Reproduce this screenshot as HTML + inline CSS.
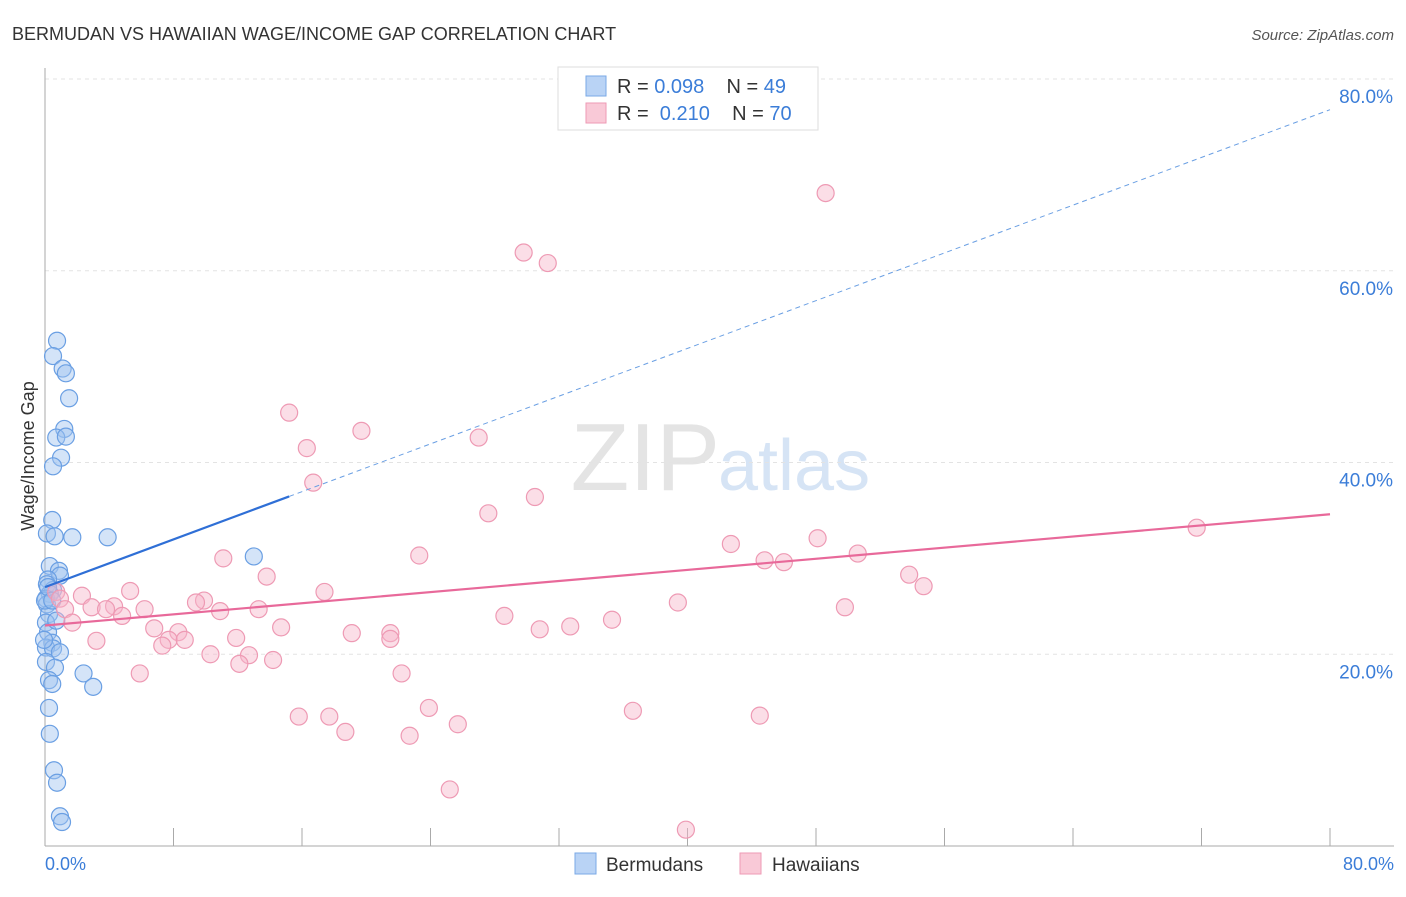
<!DOCTYPE html>
<html><head><meta charset="utf-8"><style>
body{margin:0;background:#fff;font-family:"Liberation Sans",sans-serif}
svg text{font-family:"Liberation Sans",sans-serif}
</style></head><body>
<svg id="c" width="1406" height="892">
<text x="12" y="40" font-size="18" fill="#333">BERMUDAN VS HAWAIIAN WAGE/INCOME GAP CORRELATION CHART</text>
<text x="1394" y="40" font-size="15" fill="#555" font-style="italic" text-anchor="end">Source: ZipAtlas.com</text>
<text x="720" y="490" font-size="96" fill="#e4e4e4" text-anchor="end" font-family="Liberation Serif">ZIP</text>
<text x="718" y="490" font-size="72" fill="#d6e4f5">atlas</text>
<g id="grid"></g><g id="pts"></g><g id="lines"></g>
<text transform="translate(34,456) rotate(-90)" font-size="18" fill="#333" text-anchor="middle">Wage/Income Gap</text>
<text x="45" y="870" font-size="18" fill="#3b7dd8">0.0%</text>
<text x="1394" y="870" font-size="18" fill="#3b7dd8" text-anchor="end">80.0%</text>
<g>
<rect x="558" y="67" width="260" height="63" fill="#fff" stroke="#ddd"/>
<rect x="586" y="76" width="20" height="20" fill="#b9d3f5" stroke="#7aa8e6"/>
<rect x="586" y="103" width="20" height="20" fill="#f9c9d7" stroke="#ee9ab4"/>
<text x="617" y="93" font-size="20" fill="#333">R = <tspan fill="#3b7dd8">0.098</tspan>&#160;&#160;&#160; N = <tspan fill="#3b7dd8">49</tspan></text>
<text x="617" y="120" font-size="20" fill="#333">R = &#160;<tspan fill="#3b7dd8">0.210</tspan>&#160;&#160;&#160; N = <tspan fill="#3b7dd8">70</tspan></text>
</g>
<g>
<rect x="575" y="853" width="21" height="21" fill="#b9d3f5" stroke="#7aa8e6"/>
<text x="606" y="871" font-size="19" fill="#333">Bermudans</text>
<rect x="740" y="853" width="21" height="21" fill="#f9c9d7" stroke="#ee9ab4"/>
<text x="772" y="871" font-size="19" fill="#333">Hawaiians</text>
</g>
</svg>
<script>
const yTicks=[20,40,60,80];
const xTickCount=10;
const bermX=[0.75,0.5,1.1,1.3,1.5,1.2,0.7,1.3,1.0,0.5,0.45,0.12,0.6,1.7,3.9,13.0,0.3,0.87,0.93,0.19,0.12,0.5,0.3,0.06,0.12,0.25,0.06,0.19,0.45,0.06,0.5,0.93,0.06,0.62,2.4,0.25,0.45,3.0,0.25,0.3,0.56,0.75,0.93,1.06,0.0,0.19,0.45,0.7,-0.06];
const bermY=[52.7,51.1,49.8,49.3,46.7,43.5,42.6,42.7,40.5,39.6,34.0,32.6,32.3,32.2,32.2,30.2,29.2,28.7,28.2,27.8,27.3,26.7,26.3,25.8,25.2,24.2,23.3,22.3,21.2,20.7,20.6,20.2,19.2,18.6,18.0,17.3,16.9,16.6,14.4,11.7,7.9,6.6,3.1,2.5,25.6,27.0,25.6,23.5,21.5];
const hawX=[48.6,29.8,31.3,15.2,16.3,19.7,27.0,16.7,30.5,27.6,71.7,42.7,48.1,50.6,11.1,23.3,44.8,46.0,13.8,53.8,54.7,5.3,17.4,2.3,0.7,0.93,9.9,9.4,39.4,1.25,2.9,4.3,3.8,6.2,13.3,10.9,49.8,4.8,28.6,35.3,1.7,14.7,32.7,6.8,8.3,30.8,19.1,21.5,21.5,11.9,7.7,8.7,3.2,7.3,10.3,12.7,14.2,12.1,5.9,22.2,23.9,36.6,44.5,15.8,17.7,25.7,18.7,22.7,25.2,39.9];
const hawY=[68.1,61.9,60.8,45.2,41.5,43.3,42.6,37.9,36.4,34.7,33.2,31.5,32.1,30.5,30.0,30.3,29.8,29.6,28.1,28.3,27.1,26.6,26.5,26.1,26.5,25.8,25.6,25.4,25.4,24.7,24.9,25.0,24.7,24.7,24.7,24.5,24.9,24.0,24.0,23.6,23.3,22.8,22.9,22.7,22.3,22.6,22.2,22.2,21.6,21.7,21.5,21.5,21.4,20.9,20.0,19.9,19.4,19.0,18.0,18.0,14.4,14.1,13.6,13.5,13.5,12.7,11.9,11.5,5.9,1.7];
const bermTrend=[0,27.0,80,76.8];
const hawTrend=[0,23.0,80,34.6];
const NS='http://www.w3.org/2000/svg';
const X0=45,X1=1330,Y0=846,Y80=79;
function sx(v){return X0+(X1-X0)*v/80;}
function sy(v){return Y0-(Y0-Y80)*v/80;}
function mk(t,a,p){const e=document.createElementNS(NS,t);for(const k in a)e.setAttribute(k,a[k]);p.appendChild(e);return e;}
const grid=document.getElementById('grid');
yTicks.forEach(t=>{
 const l=mk('line',{x1:X0,x2:1394,y1:sy(t),y2:sy(t),stroke:'#e3e3e3','stroke-dasharray':'4,4'},grid);
 
 
 const tx=mk('text',{x:1393,y:sy(t)+24,'font-size':19,fill:'#3b7dd8','text-anchor':'end'},grid);
 tx.textContent=t.toFixed(1)+'%';
 
 
});
const ax=mk('line',{x1:X0,x2:X0,y1:68,y2:Y0,stroke:'#aaa'},grid);


const bx=mk('line',{x1:X0,x2:1394,y1:Y0,y2:Y0,stroke:'#aaa'},grid);


for(let i=1;i<=xTickCount;i++){
 const tk=mk('line',{x1:sx(i*8),x2:sx(i*8),y1:828,y2:Y0,stroke:'#aaa'},grid);
 
 
}
const pts=document.getElementById('pts');
bermX.forEach((x,i)=>{
 const c=mk('circle',{cx:sx(x),cy:sy(bermY[i]),r:8.5,fill:'rgba(160,196,240,0.45)',stroke:'#6a9fe3','stroke-width':1.2},pts);
 
 
});
hawX.forEach((x,i)=>{
 const c=mk('circle',{cx:sx(x),cy:sy(hawY[i]),r:8.5,fill:'rgba(247,182,202,0.45)',stroke:'#ee9ab4','stroke-width':1.2},pts);
 
 
});
const lines=document.getElementById('lines');
const bm=(bermTrend[3]-bermTrend[1])/(bermTrend[2]-bermTrend[0]);
const bs=mk('line',{x1:sx(0),y1:sy(bermTrend[1]),x2:sx(15.2),y2:sy(bermTrend[1]+bm*15.2),stroke:'#2f6fd6','stroke-width':2.2},lines);


const bd=mk('line',{x1:sx(15.2),y1:sy(bermTrend[1]+bm*15.2),x2:sx(80),y2:sy(bermTrend[3]),stroke:'#6a9fe3','stroke-width':1,'stroke-dasharray':'5,4'},lines);


const hl=mk('line',{x1:sx(0),y1:sy(hawTrend[1]),x2:sx(80),y2:sy(hawTrend[3]),stroke:'#e8699a','stroke-width':2.2},lines);


</script>
</body></html>
